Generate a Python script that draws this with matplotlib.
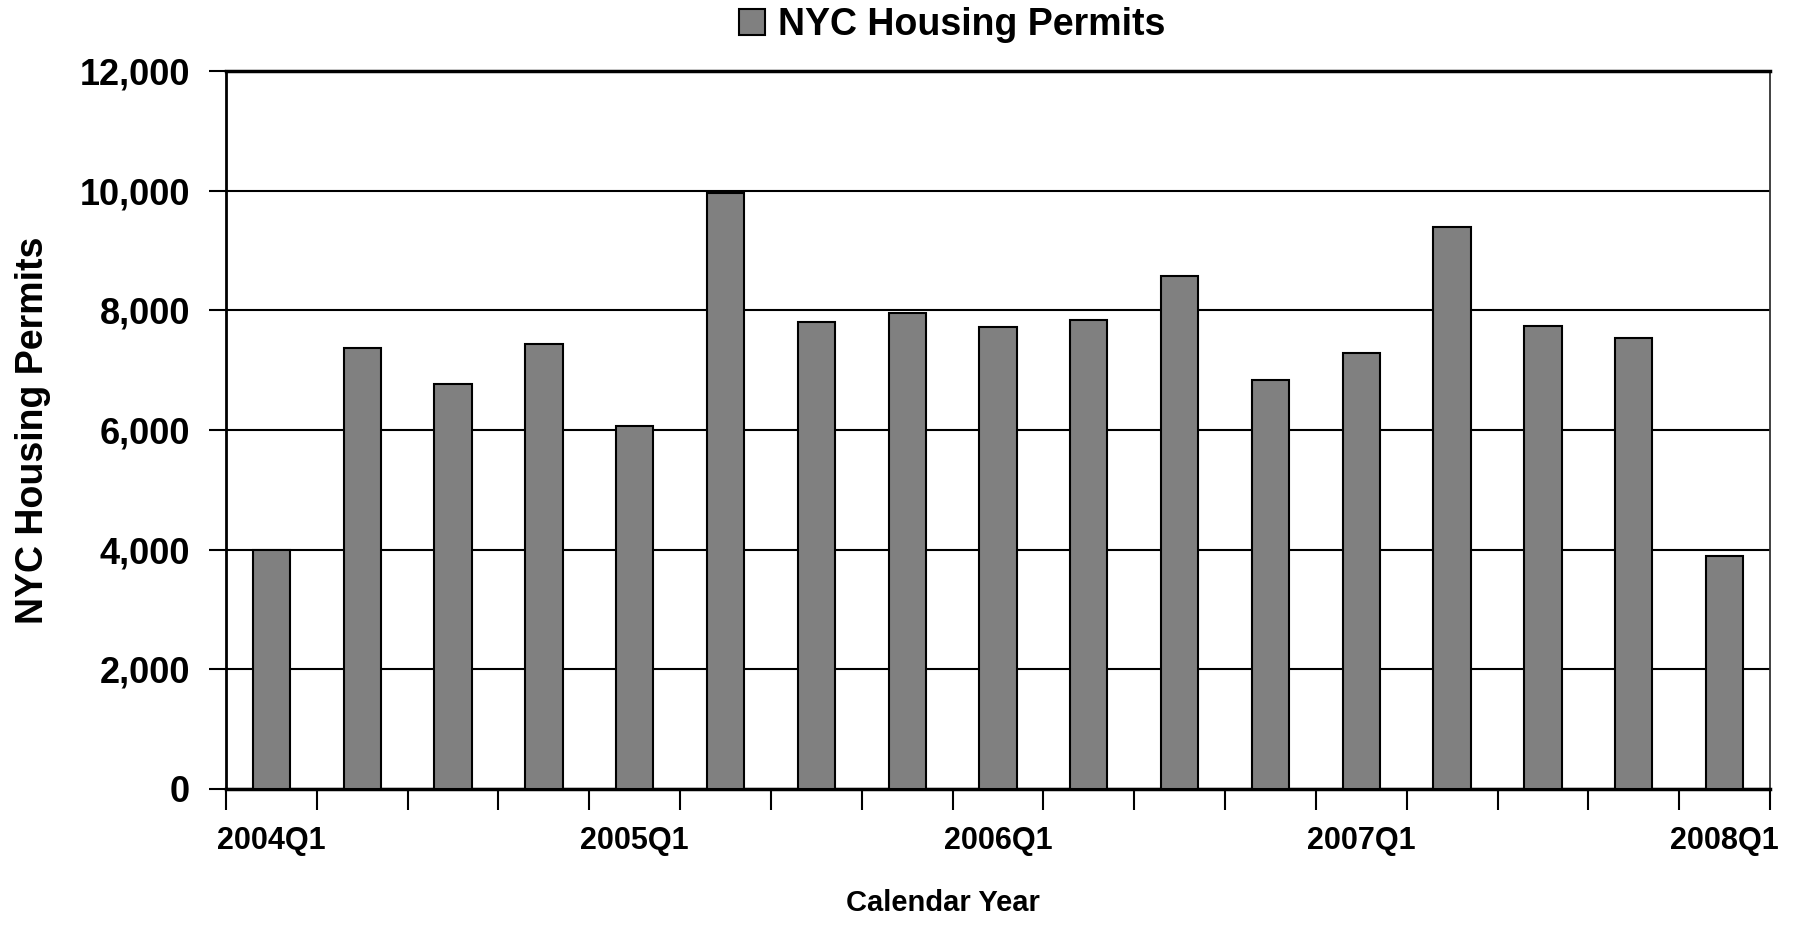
import matplotlib
matplotlib.use('Agg')
import matplotlib.pyplot as plt
from matplotlib.patches import Patch
from matplotlib.ticker import FuncFormatter
import numpy as np

plt.rcParams['font.family'] = ['Liberation Sans', 'DejaVu Sans']
plt.rcParams['font.weight'] = 'bold'

# quarterly permits
quarters = ['2004Q1', '2004Q2', '2004Q3', '2004Q4',
            '2005Q1', '2005Q2', '2005Q3', '2005Q4',
            '2006Q1', '2006Q2', '2006Q3', '2006Q4',
            '2007Q1', '2007Q2', '2007Q3', '2007Q4',
            '2008Q1']
permits = [3995, 7370, 6770, 7440, 6070, 9955, 7810, 7950,
           7715, 7845, 8580, 6840, 7280, 9390, 7745, 7540, 3890]
label_every = 4
y_ticks = [0, 2000, 4000, 6000, 8000, 10000, 12000]

fig = plt.figure(figsize=(18.01, 9.5), dpi=100)
ax = fig.add_axes([226 / 1801, 1 - 789 / 950, 1544 / 1801, 718 / 950])

x = np.arange(len(quarters))
ax.bar(x, permits, width=0.41, color='#808080', edgecolor='black',
       linewidth=1.5, zorder=3)

ax.set_xlim(-0.5, len(quarters) - 0.5)
ax.set_ylim(0, 12000)

# tick marks sit between the quarters, labels only every 4th quarter
ax.set_xticks(np.arange(len(quarters) + 1) - 0.5)
ax.set_xticklabels([])
ax.set_xticks(x[::label_every], minor=True)
ax.set_xticklabels(quarters[::label_every], minor=True)
ax.tick_params(axis='x', which='major', length=15, width=1.5, direction='out')
ax.tick_params(axis='x', which='minor', length=0, pad=27, labelsize=22)

ax.set_yticks(y_ticks)
ax.yaxis.set_major_formatter(FuncFormatter(lambda v, p: f'{int(v):,}'))
ax.tick_params(axis='y', length=12, width=1.5, direction='out', pad=14,
               labelsize=26)

ax.grid(axis='y', color='black', linewidth=1.5, zorder=0)
ax.spines['top'].set_linewidth(2.5)
ax.spines['left'].set_linewidth(2)
ax.spines['bottom'].set_linewidth(2.5)
ax.spines['right'].set_color('#333333')
ax.spines['right'].set_linewidth(1.3)

fig.text(33 / 1801, 1 - 430 / 950, 'NYC Housing Permits', rotation=90,
         ha='center', va='center', fontsize=27, fontweight='bold')
fig.text(943 / 1801, 1 - 903 / 950, 'Calendar Year', ha='center',
         va='center', fontsize=21, fontweight='bold')

handle = Patch(facecolor='#808080', edgecolor='black', linewidth=1.5)
fig.legend([handle], ['NYC Housing Permits'], loc='center',
           bbox_to_anchor=(952 / 1801, 1 - 25 / 950), frameon=False,
           fontsize=27, handlelength=0.68, handleheight=0.68,
           handletextpad=0.35, borderpad=0)

fig.savefig('out.png', dpi=100)
